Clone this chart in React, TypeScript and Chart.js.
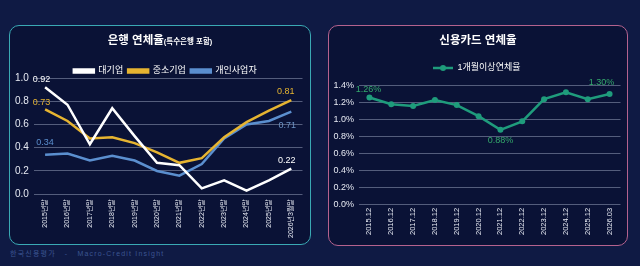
import React, { useEffect, useRef } from 'react';
import { Chart, registerables } from 'chart.js';

Chart.register(...registerables);

const FONT = "'Liberation Sans', 'Noto Sans CJK KR', sans-serif";

// ---- Bank delinquency (left) ----
const bankCategories = ['2015년말', '2016년말', '2017년말', '2018년말', '2019년말', '2020년말', '2021년말', '2022년말', '2023년말', '2024년말', '2025년말', '2026년3월말'];
const largeCorpRate = [0.92, 0.77, 0.43, 0.74, 0.5, 0.27, 0.25, 0.05, 0.12, 0.03, 0.12, 0.22];
const smeRate = [0.73, 0.63, 0.48, 0.49, 0.44, 0.36, 0.27, 0.31, 0.49, 0.62, 0.72, 0.81];
const soleProprietorRate = [0.34, 0.35, 0.29, 0.33, 0.29, 0.2, 0.16, 0.26, 0.48, 0.6, 0.63, 0.71];
const bankTickValues = [0, 0.2, 0.4, 0.6, 0.8, 1.0];

// ---- Credit card delinquency (right) ----
const cardCategories = ['2015.12', '2016.12', '2017.12', '2018.12', '2019.12', '2020.12', '2021.12', '2022.12', '2023.12', '2024.12', '2025.12', '2026.03'];
const cardDelinquencyRate = [1.26, 1.18, 1.16, 1.23, 1.17, 1.04, 0.88, 0.98, 1.24, 1.32, 1.24, 1.3];
const cardTickValues = [0, 0.2, 0.4, 0.6, 0.8, 1.0, 1.2, 1.4];

const WHITE = '#ffffff';
const GOLD = '#e6b431';
const BLUE = '#5b8fcf';
const GREEN_LINE = '#1f9c7c';
const GREEN_TEXT = '#34a96c';
const GRID = '#545d7c';
const TICK = '#e6e9f2';

type Ann = { dataset: number; index: number; dx: number; dy: number; color: string; digits: number; suffix?: string };

const bankAnnotations: Ann[] = [
  { dataset: 0, index: 0, dx: -3.5, dy: -7.5, color: WHITE, digits: 2 },
  { dataset: 1, index: 0, dx: -3.5, dy: -6.5, color: GOLD, digits: 2 },
  { dataset: 2, index: 0, dx: 0, dy: -12, color: BLUE, digits: 2 },
  { dataset: 1, index: 11, dx: -5.5, dy: -9, color: GOLD, digits: 2 },
  { dataset: 2, index: 11, dx: -4, dy: 13.5, color: '#6d93c4', digits: 2 },
  { dataset: 0, index: 11, dx: -4.5, dy: -8.5, color: WHITE, digits: 2 },
];

const cardAnnotations: Ann[] = [
  { dataset: 0, index: 0, dx: -1, dy: -8, color: GREEN_TEXT, digits: 2, suffix: '%' },
  { dataset: 0, index: 6, dx: 0, dy: 10.5, color: GREEN_TEXT, digits: 2, suffix: '%' },
  { dataset: 0, index: 11, dx: -8, dy: -12, color: GREEN_TEXT, digits: 2, suffix: '%' },
];

function pointLabelPlugin(anns: Ann[], font: string) {
  return {
    id: 'pointLabels',
    afterDatasetsDraw(chart: any) {
      const ctx = chart.ctx;
      ctx.save();
      ctx.font = font;
      ctx.textAlign = 'center';
      ctx.textBaseline = 'middle';
      anns.forEach((a) => {
        const el = chart.getDatasetMeta(a.dataset).data[a.index];
        const v = chart.data.datasets[a.dataset].data[a.index] as number;
        if (!el) return;
        ctx.fillStyle = a.color;
        ctx.fillText(v.toFixed(a.digits) + (a.suffix || ''), el.x + a.dx, el.y + a.dy);
      });
      ctx.restore();
    },
  };
}

function legendPatchPlugin(h: number, dx: number, dy: number) {
  return {
    id: 'legendPatch',
    beforeLayout(chart: any) {
      const leg = chart.legend;
      if (leg && !leg.__patched) {
        const origFit = leg.fit.bind(leg);
        leg.fit = function () {
          origFit();
          this.height = h;
        };
        const origDraw = leg.draw.bind(leg);
        leg.draw = function () {
          const ctx = chart.ctx;
          ctx.save();
          ctx.translate(dx, dy);
          origDraw();
          ctx.restore();
        };
        leg.__patched = true;
      }
    },
  };
}

function makeLineMarker(color: string) {
  const c = document.createElement('canvas');
  c.width = 20;
  c.height = 8;
  const g = c.getContext('2d')!;
  g.strokeStyle = color;
  g.lineWidth = 2.5;
  g.beginPath();
  g.moveTo(0, 4);
  g.lineTo(20, 4);
  g.stroke();
  g.fillStyle = color;
  g.beginPath();
  g.arc(10, 4, 3, 0, Math.PI * 2);
  g.fill();
  return c;
}

export default function App() {
  const leftRef = useRef<HTMLCanvasElement>(null);
  const rightRef = useRef<HTMLCanvasElement>(null);

  useEffect(() => {
    const left = new Chart(leftRef.current!, {
      type: 'line',
      data: {
        labels: bankCategories,
        datasets: [
          { label: '대기업', data: largeCorpRate, borderColor: WHITE, backgroundColor: WHITE, borderWidth: 2.5, pointRadius: 0, tension: 0 },
          { label: '중소기업', data: smeRate, borderColor: GOLD, backgroundColor: GOLD, borderWidth: 2.5, pointRadius: 0, tension: 0 },
          { label: '개인사업자', data: soleProprietorRate, borderColor: BLUE, backgroundColor: BLUE, borderWidth: 2.5, pointRadius: 0, tension: 0 },
        ],
      },
      options: {
        animation: false,
        responsive: true,
        maintainAspectRatio: false,
        layout: { padding: { top: 34, left: 0, right: 7.5, bottom: 1 } },
        plugins: {
          legend: {
            position: 'top',
            labels: { color: WHITE, font: { size: 9, family: FONT }, boxWidth: 20, boxHeight: 3, padding: 5 },
          },
          title: { display: false },
          tooltip: { enabled: false },
        },
        scales: {
          x: {
            offset: true,
            grid: { display: false, drawTicks: false },
            border: { display: false },
            ticks: { color: TICK, font: { size: 7, family: FONT }, minRotation: 90, maxRotation: 90, autoSkip: false, padding: 5 },
          },
          y: {
            min: 0,
            max: 1,
            grid: { color: GRID, drawTicks: false, lineWidth: 1 },
            border: { display: false },
            afterBuildTicks: (axis: any) => {
              axis.ticks = bankTickValues.map((v) => ({ value: v }));
            },
            ticks: { color: TICK, font: { size: 10, family: FONT }, padding: 5, callback: (v: any) => Number(v).toFixed(1) },
          },
        },
      } as any,
      plugins: [legendPatchPlugin(18, 9, 1.5), pointLabelPlugin(bankAnnotations, `9px ${FONT}`)],
    });

    const marker = makeLineMarker(GREEN_LINE);
    const right = new Chart(rightRef.current!, {
      type: 'line',
      data: {
        labels: cardCategories,
        datasets: [
          {
            label: '1개월이상연체율',
            data: cardDelinquencyRate,
            borderColor: GREEN_LINE,
            backgroundColor: GREEN_LINE,
            borderWidth: 2.5,
            pointRadius: 3,
            pointBackgroundColor: GREEN_LINE,
            pointBorderWidth: 0,
            tension: 0,
          },
        ],
      },
      options: {
        animation: false,
        responsive: true,
        maintainAspectRatio: false,
        layout: { padding: { top: 31, left: 0, right: 6.5, bottom: 7 } },
        plugins: {
          legend: {
            position: 'top',
            labels: { color: WHITE, font: { size: 9, family: FONT }, usePointStyle: true, pointStyle: marker, pointStyleWidth: 20, padding: 5 },
          },
          title: { display: false },
          tooltip: { enabled: false },
        },
        scales: {
          x: {
            offset: true,
            grid: { display: false, drawTicks: false },
            border: { display: false },
            ticks: { color: TICK, font: { size: 7.5, family: FONT }, minRotation: 90, maxRotation: 90, autoSkip: false, padding: 3 },
          },
          y: {
            min: 0,
            max: 1.4,
            grid: { color: GRID, drawTicks: false, lineWidth: 1 },
            border: { display: false },
            afterBuildTicks: (axis: any) => {
              axis.ticks = cardTickValues.map((v) => ({ value: v }));
            },
            ticks: { color: TICK, font: { size: 9, family: FONT }, padding: 4.5, callback: (v: any) => Number(v).toFixed(1) + '%' },
          },
        },
      } as any,
      plugins: [legendPatchPlugin(28.5, 2, 1.5), pointLabelPlugin(cardAnnotations, `9px ${FONT}`)],
    });

    return () => {
      left.destroy();
      right.destroy();
    };
  }, []);

  return (
    <div style={{ position: 'fixed', left: 0, top: 0, width: 640, height: 266, background: '#0f1a44', overflow: 'hidden', fontFamily: FONT }}>
      <div style={{ position: 'absolute', left: 9, top: 25, width: 302, height: 220, boxSizing: 'border-box', border: '1.5px solid #3aa9b4', borderRadius: 10, background: '#0a1236' }}>
        <div style={{ position: 'absolute', left: 0, top: 0, right: 0, bottom: 0 }}>
          <canvas ref={leftRef} />
        </div>
        <div style={{ position: 'absolute', left: 0, right: 0, top: 6, textAlign: 'center', color: '#ffffff', fontWeight: 700, fontSize: 11.5, lineHeight: '16px', pointerEvents: 'none' }}>
          은행 연체율<span style={{ fontSize: 7.5 }}>(특수은행 포함)</span>
        </div>
      </div>
      <div style={{ position: 'absolute', left: 328, top: 25, width: 300, height: 221, boxSizing: 'border-box', border: '1.5px solid #b4628e', borderRadius: 10, background: '#0a1236' }}>
        <div style={{ position: 'absolute', left: 0, top: 0, right: 0, bottom: 0 }}>
          <canvas ref={rightRef} />
        </div>
        <div style={{ position: 'absolute', left: 0, right: 0, top: 6, textAlign: 'center', color: '#ffffff', fontWeight: 700, fontSize: 11.5, lineHeight: '16px', pointerEvents: 'none' }}>
          신용카드 연체율
        </div>
      </div>
      <div style={{ position: 'absolute', left: 10, top: 249, fontSize: 7, lineHeight: '10px', letterSpacing: 1.2, color: '#3b5592', whiteSpace: 'nowrap' }}>
        한국신용평가<span style={{ margin: '0 9px' }}>-</span>Macro-Credit Insight
      </div>
    </div>
  );
}
